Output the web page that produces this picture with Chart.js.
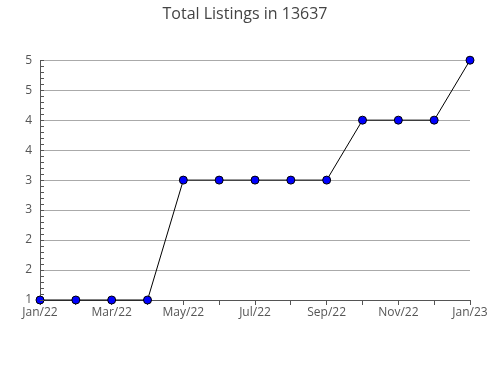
<!DOCTYPE html>
<html>
<head>
<meta charset="utf-8">
<script src="https://cdn.jsdelivr.net/npm/chart.js@4"></script>
<style>
  html, body { margin: 0; padding: 0; background: #ffffff; }
  #chart { display: block; }
</style>
</head>
<body>
<canvas id="chart" width="490" height="380"></canvas>
<script>
// Months shown along the x axis
const MONTHS = ['Jan/22', 'Feb/22', 'Mar/22', 'Apr/22', 'May/22', 'Jun/22', 'Jul/22',
  'Aug/22', 'Sep/22', 'Oct/22', 'Nov/22', 'Dec/22', 'Jan/23'];

// Total listings per month
const LISTINGS = [1, 1, 1, 1, 3, 3, 3, 3, 3, 4, 4, 4, 5];

// Y axis range and step
const Y_MIN = 1;
const Y_MAX = 5;
const Y_STEP = 0.5;
const Y_MINOR_STEP = 0.1;

// Small inner ticks along the y axis
const minorTicks = {
  id: 'minorTicks',
  afterDraw(chart) {
    const ctx = chart.ctx;
    const y = chart.scales.y;
    ctx.save();
    ctx.strokeStyle = '#555555';
    ctx.lineWidth = 1;
    ctx.beginPath();
    for (let v = Y_MIN; v <= Y_MAX + 1e-9; v += Y_MINOR_STEP) {
      const py = Math.round(y.getPixelForValue(v)) + 0.5;
      ctx.moveTo(y.right, py);
      ctx.lineTo(y.right + 4, py);
    }
    ctx.stroke();
    ctx.restore();
  }
};

const ctx = document.getElementById('chart').getContext('2d');

new Chart(ctx, {
  type: 'line',
  data: {
    labels: MONTHS,
    datasets: [{
      data: LISTINGS,
      borderColor: '#000000',
      borderWidth: 1,
      pointBackgroundColor: '#0000ff',
      pointBorderColor: '#000000',
      pointBorderWidth: 1,
      pointRadius: 4,
      tension: 0,
      clip: false
    }]
  },
  options: {
    responsive: false,
    animation: false,
    layout: {
      padding: { left: 20, right: 20, top: 0, bottom: 59 }
    },
    plugins: {
      legend: { display: false },
      tooltip: { enabled: false },
      title: {
        display: true,
        text: 'Total Listings in 13637',
        color: '#444444',
        font: { family: 'Open Sans', size: 16, weight: 'normal' },
        padding: { top: 5, bottom: 36 }
      }
    },
    scales: {
      x: {
        offset: false,
        grid: {
          drawOnChartArea: false,
          drawTicks: true,
          tickLength: 5,
          color: '#555555'
        },
        border: { color: '#555555' },
        ticks: {
          autoSkip: false,
          maxRotation: 0,
          padding: 0,
          color: '#555555',
          font: { family: 'Open Sans', size: 12 },
          callback: (val, i) => (i % 2 === 0 ? MONTHS[i] : '')
        },
        afterFit: (s) => { s.height = 21; }
      },
      y: {
        min: Y_MIN,
        max: Y_MAX,
        grid: {
          color: '#aaaaaa',
          drawTicks: false
        },
        border: { color: '#555555' },
        ticks: {
          stepSize: Y_STEP,
          padding: 8,
          color: '#555555',
          font: { family: 'Open Sans', size: 12 },
          callback: (v) => Math.round(v)
        },
        afterFit: (s) => { s.width = 20; }
      }
    }
  },
  plugins: [minorTicks]
});
</script>
</body>
</html>
